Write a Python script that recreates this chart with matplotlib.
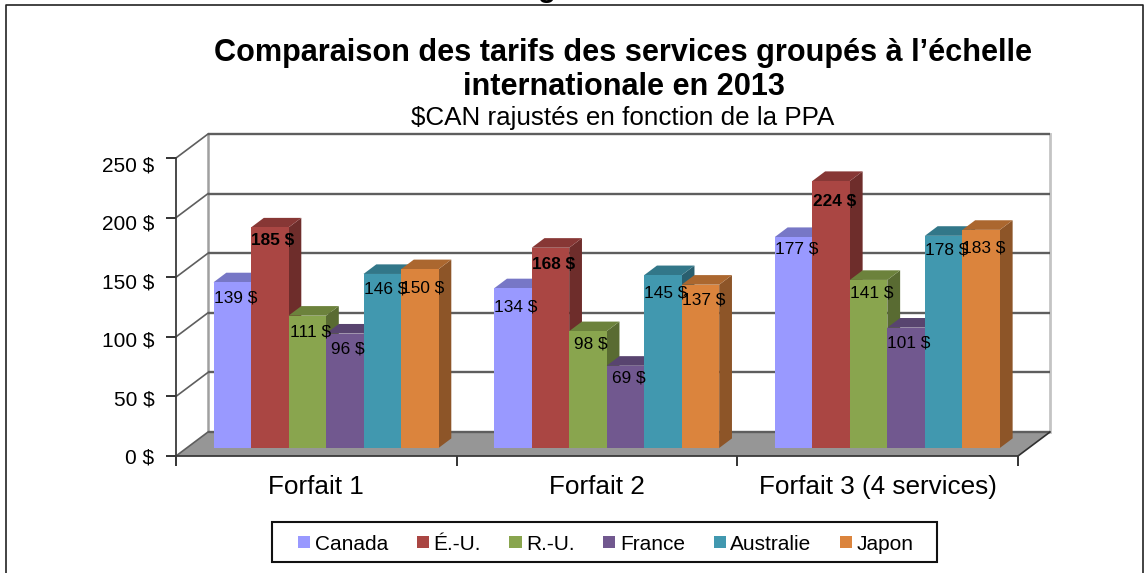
import matplotlib
matplotlib.use("Agg")
import matplotlib.pyplot as plt
from matplotlib.patches import Polygon, Patch, Rectangle
from matplotlib.lines import Line2D
from matplotlib.transforms import Affine2D

plt.rcParams['font.family'] = ['Liberation Sans', 'DejaVu Sans']

# ---- data ----
categories = ["Forfait 1", "Forfait 2", "Forfait 3 (4 services)"]
series_names = ["Canada", "É.-U.", "R.-U.", "France", "Australie", "Japon"]
canada = [139, 134, 177]
usa = [185, 168, 224]
uk = [111, 98, 141]
france = [96, 69, 101]
australia = [146, 145, 178]
japan = [150, 137, 183]
y_ticks = [0, 50, 100, 150, 200, 250]

# ---- styles ----
front_colors = ["#9999FF", "#AA4643", "#89A54E", "#71588F", "#4198AF", "#DB843D"]
top_colors = ["#7777C6", "#873735", "#6C823C", "#58446F", "#327789", "#AB672F"]
side_colors = ["#6464A6", "#6E2D2B", "#596B32", "#48385B", "#295F6F", "#8D5528"]
# how far below the bar top each value label sits (px), per group and series
label_drop = [[14, 11, 15, 14, 13, 17],
              [17, 15, 11, 11, 16, 14],
              [10, 19, 11, 14, 13, 16]]
W, H = 1148, 573

def rect(l, t, r, b):
    return [l / W, 1 - b / H, (r - l) / W, (b - t) / H]

fig = plt.figure(figsize=(W / 100, H / 100), dpi=100, facecolor="white")
ax = fig.add_axes(rect(176, 158, 1018, 456))
ax.set_xlim(0, 3)
ax.set_ylim(0, 250)
ax.patch.set_visible(False)

# oblique projection: depth 0 (front) .. 1 (back wall)
DX = 32 / (842 / 3)
DY = 24 / (298 / 250)

def proj(x, y, d):
    return (x + d * DX, y + d * DY)

def poly(pts, color, z, edge="none", lw=0):
    ax.add_patch(Polygon(pts, closed=True, facecolor=color, edgecolor=edge,
                         linewidth=lw, zorder=z, clip_on=False))

# floor
poly([proj(0, 0, 0), proj(3, 0, 0), proj(3, 0, 1), proj(0, 0, 1)], "#969696", 1)

# back wall + side wall lines
for v in y_ticks:
    ax.plot(*zip(proj(0, v, 1), proj(3, v, 1)), color="#5E5E5E", lw=1.7, zorder=1.5,
            clip_on=False, solid_capstyle="butt")
    ax.plot(*zip(proj(0, v, 0), proj(0, v, 1)), color="#5E5E5E", lw=1.2, zorder=1.5,
            clip_on=False)
ax.plot(*zip(proj(0, 0, 1), proj(0, 250, 1)), color="#A0A0A0", lw=1.8, zorder=1.4, clip_on=False)
ax.plot(*zip(proj(3, 0, 1), proj(3, 250, 1)), color="#C4C4C4", lw=2.0, zorder=1.4, clip_on=False)
ax.plot(*zip(proj(3, 0, 0), proj(3, 0, 1)), color="#303030", lw=1.2, zorder=1.5, clip_on=False)

# bars
series = [canada, usa, uk, france, australia, japan]
BAR_W = 37.5 / (842 / 3)
D0, D1 = 1 / 3, 1 / 3 + 0.4
SHIFT = -1.0 / (842 / 3)
z = 2.0
for g in range(len(categories)):
    start = g + 0.5 - 3 * BAR_W + SHIFT
    for s, values in enumerate(series):
        v = values[g]
        x0 = start + s * BAR_W
        x1 = x0 + BAR_W
        poly([proj(x1, 0, D0), proj(x1, 0, D1), proj(x1, v, D1), proj(x1, v, D0)], side_colors[s], z)
        poly([proj(x0, v, D0), proj(x1, v, D0), proj(x1, v, D1), proj(x0, v, D1)], top_colors[s], z + 0.01)
        poly([proj(x0, 0, D0), proj(x1, 0, D0), proj(x1, v, D0), proj(x0, v, D0)], front_colors[s], z + 0.02)
        z += 0.1

# value labels
for g in range(len(categories)):
    start = g + 0.5 - 3 * BAR_W + SHIFT
    for s, values in enumerate(series):
        v = values[g]
        pos = proj(start + (s + 0.5) * BAR_W, v, D0)
        ax.annotate(f"{v} $", pos, xytext=(2.2, -label_drop[g][s] * 0.72 - 1.2),
                    textcoords="offset points", ha="center", va="center",
                    fontsize=12.4, color="black", zorder=10,
                    fontweight="bold" if s == 1 else "normal")

# axes
for name in ("top", "right"):
    ax.spines[name].set_visible(False)
for name in ("left", "bottom"):
    ax.spines[name].set_color("#3A3A3A")
    ax.spines[name].set_linewidth(1.3)
    ax.spines[name].set_zorder(1.6)
ax.set_yticks(y_ticks)
ax.set_yticklabels([f"{v} $" for v in y_ticks], fontsize=15)
ax.set_xticks([0, 1, 2, 3])
ax.set_xticklabels([])
ax.set_xticks([0.5, 1.5, 2.5], minor=True)
ax.set_xticklabels(categories, minor=True, fontsize=18.8)
ax.tick_params(axis="x", which="minor", length=0, pad=14)
ax.tick_params(axis="x", which="major", length=7, width=1.2, color="#111111", direction="out")
ax.tick_params(axis="y", length=7, width=1.2, color="#111111", pad=8.5)
# the reference's y labels drift downwards from the ticks towards the top
for v, lab in zip(y_ticks, ax.get_yticklabels()):
    lab.set_transform(lab.get_transform() + Affine2D().translate(0, -(v / 250) * 6))

# clipped remnant of a heading above the chart frame
fig.text(547 / W, 1 + 3 / H, "g", ha="center", va="baseline", fontsize=21, fontweight="bold")

# titles
fig.text(623.5 / W, 1 - 53 / H, "Comparaison des tarifs des services groupés à l’échelle",
         ha="center", va="center", fontsize=22.1, fontweight="bold")
fig.text(623.5 / W, 1 - 87 / H, "internationale en 2013",
         ha="center", va="center", fontsize=22.1, fontweight="bold")
fig.text(623 / W, 1 - 117.5 / H, r"\$CAN rajustés en fonction de la PPA",
         ha="center", va="center", fontsize=18.7)

# legend
fig.add_artist(Rectangle((272 / W, 1 - 562 / H), 665 / W, 40 / H, transform=fig.transFigure,
                         facecolor="white", edgecolor="#111111", linewidth=1.5))
handles = [Patch(facecolor=c, edgecolor="none") for c in front_colors]
leg = fig.legend(handles, series_names, ncol=6, loc="center",
                 bbox_to_anchor=(606 / W, 1 - 544 / H), fontsize=15, frameon=False,
                 handlelength=0.58, handleheight=0.55, handletextpad=0.22,
                 columnspacing=1.37, borderpad=0, labelspacing=0)
leg.set_zorder(5)

# outer frame (open at the bottom)
fig.add_artist(Line2D([6 / W, 6 / W, 1143 / W, 1143 / W],
                      [0, 1 - 5 / H, 1 - 5 / H, 0], color="#222222", lw=1.2))

fig.savefig("out.png", dpi=100, facecolor="white")
